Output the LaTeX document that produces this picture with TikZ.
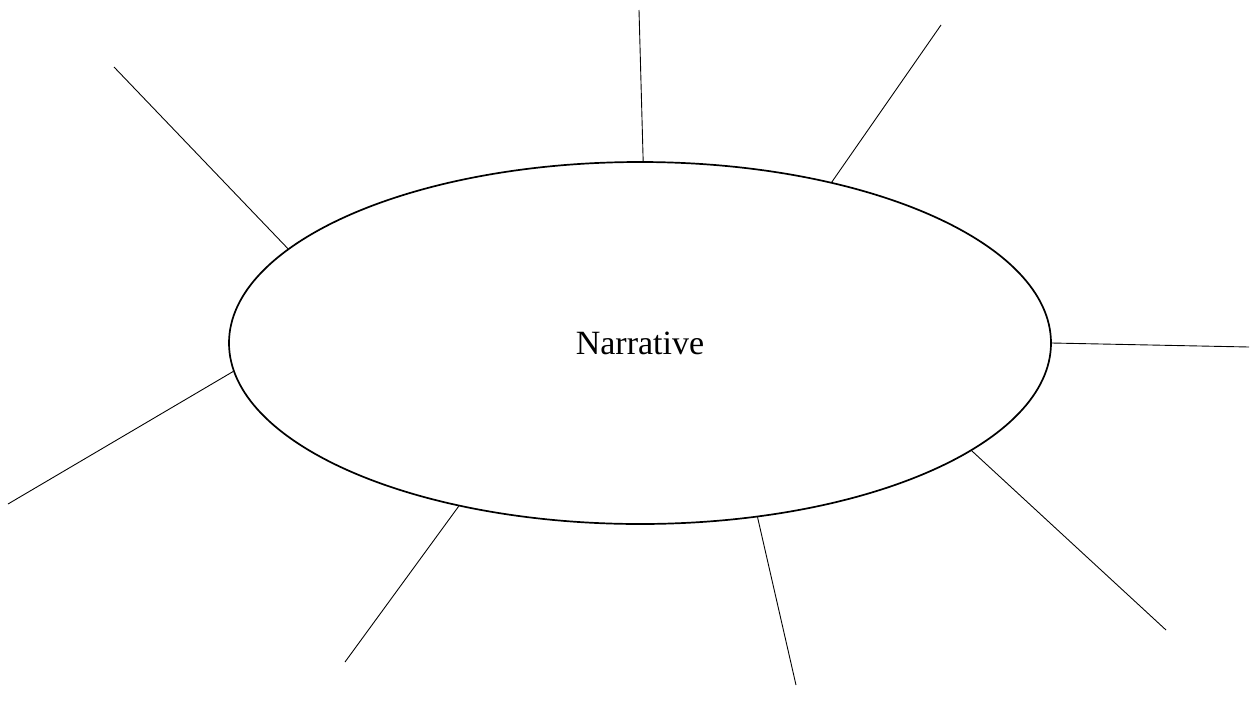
\documentclass[tikz,border=0pt]{standalone}
\usepackage{fontspec}
\setmainfont{Liberation Serif}
\usetikzlibrary{shapes.geometric}
\begin{document}
\begin{tikzpicture}[x=1pt,y=-1pt,every node/.style={font=\fontsize{34}{40}\selectfont},spoke/.style={line width=0.9pt}]
\useasboundingbox (0,0) rectangle (1256,713);
\node[draw,ellipse,line width=1.7pt,minimum width=822pt,minimum height=362pt,inner sep=0pt] (narr) at (640,343) {Narrative};
\coordinate (top) at (639,10);
\coordinate (topright) at (941,25);
\coordinate (right) at (1249,347);
\coordinate (lowright) at (1166,630);
\coordinate (bottom) at (796,685);
\coordinate (lowleft) at (345,662);
\coordinate (left) at (8,504);
\coordinate (topleft) at (114,67);
\draw[spoke] (narr.89.7) -- (top);
\draw[spoke] (narr.40.9) -- (topright);
\draw[spoke] (narr.-0.1) -- (right);
\draw[spoke] (narr.-18.1) -- (lowright);
\draw[spoke] (narr.-56.9) -- (bottom);
\draw[spoke] (narr.222.6) -- (lowleft);
\draw[spoke] (narr.184.9) -- (left);
\draw[spoke] (narr.165.2) -- (topleft);
\end{tikzpicture}
\end{document}
